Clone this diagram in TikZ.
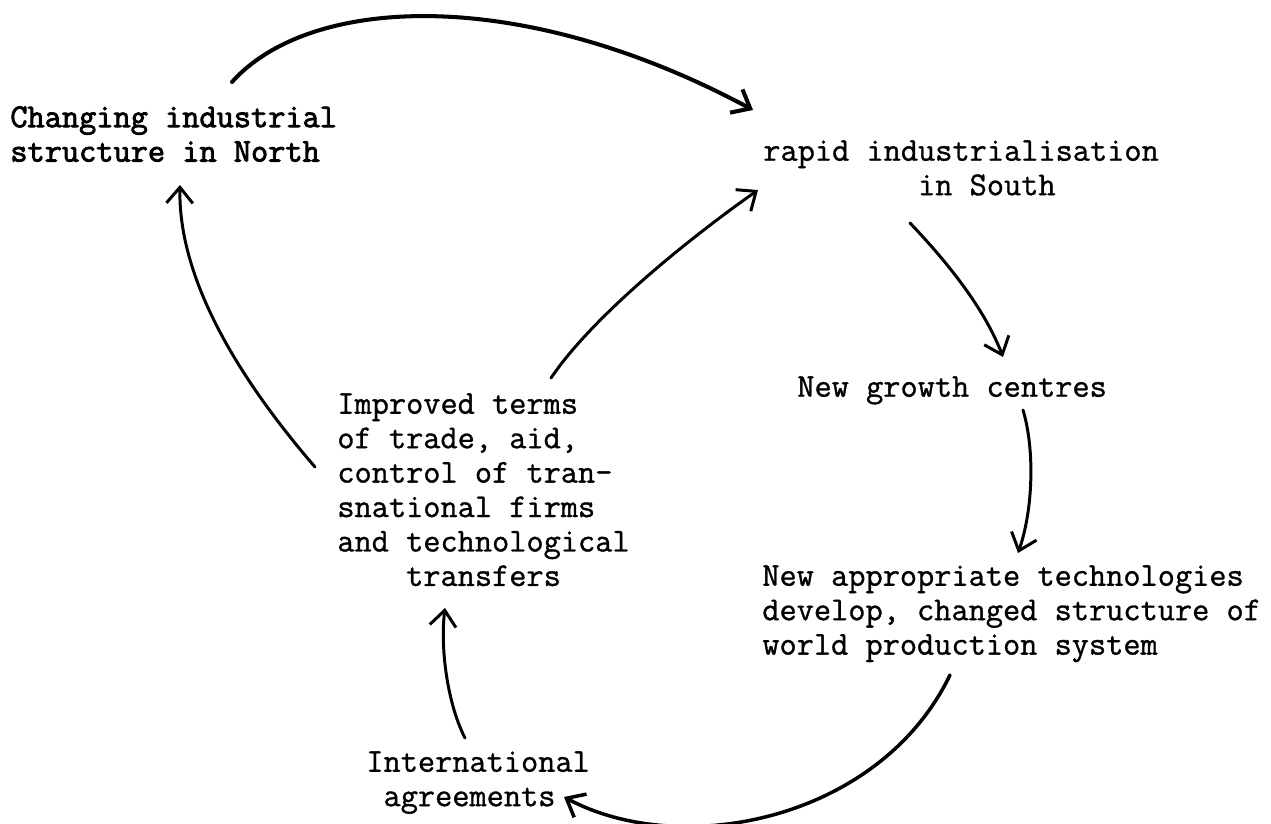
\documentclass[tikz,border=0pt]{standalone}
\usepackage{fontspec}
\setmonofont{Latin Modern Mono}[FakeBold=1,BoldFont={Latin Modern Mono},BoldFeatures={FakeBold=2.5}]
\usetikzlibrary{arrows.meta}

\begin{document}
\begin{tikzpicture}[x=0.02cm,y=-0.02cm]
    \useasboundingbox (0,0) rectangle (1271,824);
    \begin{scope}[font=\fontsize{19}{19.6}\selectfont\ttfamily,
        every node/.style={anchor=north west,inner sep=0pt,align=left},
        flow/.style={-{Straight Barb[length=9pt,width=15pt]},line width=1.7pt,line cap=round}]
      \node (north)  at (10,106)  {\bfseries Changing industrial\\\bfseries structure in North};
      \node (south)  at (763,140) {rapid industrialisation\\\phantom{rapid ind}in South};
      \node (growth) at (797,376) {New growth centres};
      \node (tech)   at (762,565) {New appropriate technologies\\develop, changed structure of\\world production system};
      \node (terms)  at (337,393) {Improved terms\\of trade, aid,\\control of tran-\\snational firms\\and technological\\\phantom{and }transfers};
      \node (intl)   at (366,751) {International\\\phantom{I}agreements};

      % the loop, clockwise from the North
      \draw [flow,line width=2.3pt] ([shift={(222,-24)}]north.north west)
        .. controls +(78,-87) and +(-233,-125) .. ([shift={(-10,-30)}]south.north west);
      \draw [flow] ([shift={(147,83)}]south.north west)
        .. controls +(40,42) and +(-18,-47) .. ([shift={(206,-19)}]growth.north west);
      \draw [flow] ([shift={(226,34)}]growth.north west)
        .. controls +(12,40) and +(15,-43) .. ([shift={(256,-12)}]tech.north west);
      \draw [flow,line width=2pt] ([shift={(188,110)}]tech.north west)
        .. controls +(-70,145) and +(118,63) .. ([shift={(198,46)}]intl.north west);
      \draw [flow] ([shift={(99,-13)}]intl.north west)
        .. controls +(-17,-33) and +(-5,42) .. ([shift={(108,215)}]terms.north west);
      \draw [flow] ([shift={(214,-15)}]terms.north west)
        .. controls +(39,-58) and +(-78,55) .. ([shift={(-5,50)}]south.north west);
      \draw [flow] ([shift={(-22,74)}]terms.north west)
        .. controls +(-75,-87) and +(-2,95) .. ([shift={(170,79)}]north.north west);
    \end{scope}
\end{tikzpicture}
\end{document}
